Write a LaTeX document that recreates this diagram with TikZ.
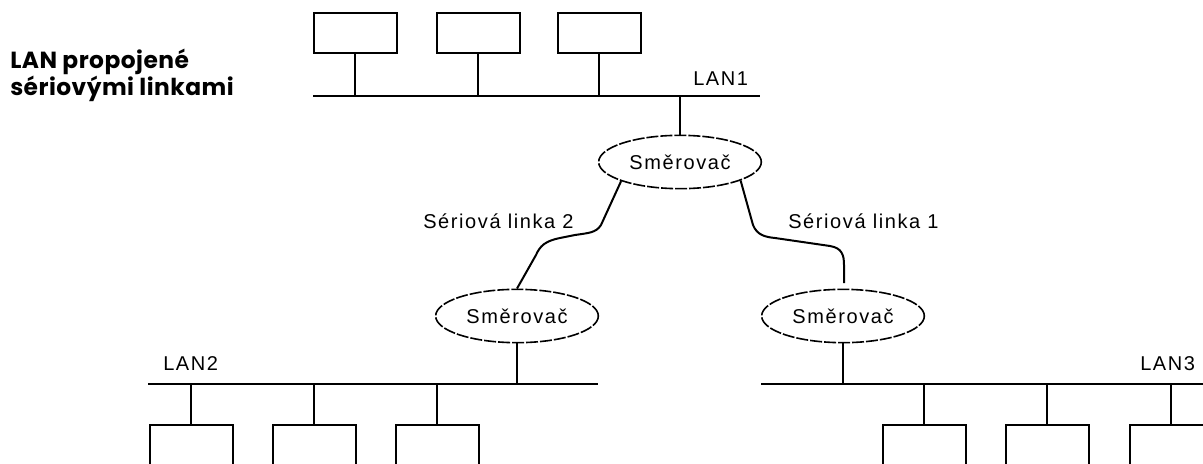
\documentclass[tikz,border=0pt]{standalone}
\usepackage{fontspec}
\setmainfont{Liberation Sans}
\newfontfamily\difont{Liberation Sans}[LetterSpace=8]
\newfontfamily\titlefont{Poppins}[LetterSpace=2]
\newcommand\diagfont{\difont\fontsize{15pt}{18pt}\selectfont}
\newcommand\headfont{\titlefont\bfseries\fontsize{17.5pt}{21pt}\selectfont}
\usetikzlibrary{shapes.geometric}
\begin{document}
\begin{tikzpicture}[x=0.75pt,y=-0.75pt,
  wire/.style={line width=1.5pt},
  host/.style={draw,line width=1.5pt,rectangle,minimum width=62.25pt,minimum height=30pt,inner sep=0pt},
  hostlow/.style={host,minimum height=45pt},
  router/.style={draw,ellipse,line width=1.2pt,dash pattern=on 9pt off 1.5pt,minimum width=122pt,minimum height=40pt,inner sep=0pt,font=\diagfont},
  lbl/.style={font=\diagfont,inner sep=0pt,anchor=base west},
  head/.style={font=\headfont,inner sep=0pt,anchor=base west}]
\fill[white] (0,0) rectangle (1203,464);
\clip (0,0) rectangle (1203,464);
% title
\node[head] (t1) at (10,68) {LAN propojené};
\node[head] (t2) at (10,95) {sériovými linkami};
% LAN1
\node[host] (h11) at (355,33) {};
\node[host] (h12) at (478,33) {};
\node[host] (h13) at (599,33) {};
\coordinate (l1a) at (313,96);
\coordinate (l1b) at (760,96);
\draw[wire] (l1a) -- (l1b);
\foreach \h in {h11,h12,h13} \draw[wire] (\h.south) -- (\h.south |- l1a);
\node[lbl] (lan1) at (693,85) {LAN1};
\node[router] (r1) at (680,162) {Směrovač};
\draw[wire] (r1.north) -- (r1.north |- l1a);
% routers 2 and 3
\node[router] (r2) at (517,316) {Směrovač};
\node[router] (r3) at (843,316) {Směrovač};
% serial links
\coordinate (e1) at (844,283);
\draw[wire] (r1.-162) -- (601,225) .. controls (596,233) and (588,233) .. (575,235)
  -- (560,238) .. controls (545,241) and (540,246) .. (536,255) -- (r2.north);
\draw[wire] (r1.-17) -- (753,225) .. controls (757,235) and (765,237) .. (775,238)
  -- (830,246) .. controls (842,248) and (844,255) .. (844,265) -- (e1);
\node[lbl] (s2) at (423,228) {Sériová linka 2};
\node[lbl] (s1) at (788,228) {Sériová linka 1};
% LAN2
\coordinate (l2a) at (148,384);
\coordinate (l2b) at (598,384);
\draw[wire] (l2a) -- (l2b);
\node[lbl] (lan2) at (163,370) {LAN2};
\draw[wire] (r2.south) -- (r2.south |- l2a);
\node[hostlow] (h21) at (191,455) {};
\node[hostlow] (h22) at (314,455) {};
\node[hostlow] (h23) at (437,455) {};
\foreach \h in {h21,h22,h23} \draw[wire] (\h.north) -- (\h.north |- l2a);
% LAN3
\coordinate (l3a) at (761,384);
\coordinate (l3b) at (1203,384);
\draw[wire] (l3a) -- (l3b);
\node[lbl] (lan3) at (1140,370) {LAN3};
\draw[wire] (r3.south) -- (r3.south |- l3a);
\node[hostlow] (h31) at (924,455) {};
\node[hostlow] (h32) at (1047,455) {};
\node[hostlow] (h33) at (1171,455) {};
\foreach \h in {h31,h32,h33} \draw[wire] (\h.north) -- (\h.north |- l3a);
\end{tikzpicture}
\end{document}
